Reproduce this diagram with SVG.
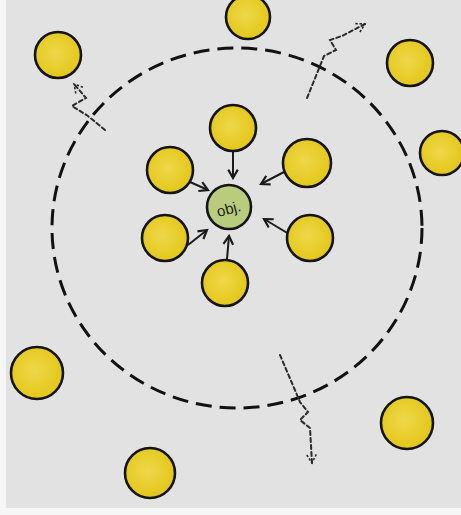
<svg xmlns="http://www.w3.org/2000/svg" width="461" height="515" viewBox="0 0 461 515">
<defs>
<radialGradient id="yel" cx="45%" cy="45%" r="60%">
<stop offset="0" stop-color="#eed84a"/>
<stop offset="1" stop-color="#e3c515"/>
</radialGradient>
<marker id="ah" viewBox="0 0 10 10" refX="8" refY="5" markerWidth="6" markerHeight="6" orient="auto">
<path d="M1,1 L8,5 L1,9" fill="none" stroke="#1a1a1a" stroke-width="1.8"/>
</marker>
<marker id="ahd" viewBox="0 0 10 10" refX="8" refY="5" markerWidth="6" markerHeight="6" orient="auto">
<path d="M1,1 L8,5 L1,9" fill="none" stroke="#2a2a2a" stroke-width="1.3" stroke-dasharray="2 1.5"/>
</marker>
</defs>
<style>
.b{fill:url(#yel);stroke:#141414;stroke-width:2.6}
.arr{fill:none;stroke:#1a1a1a;stroke-width:2;marker-end:url(#ah)}
.dot{fill:none;stroke:#2a2a2a;stroke-width:2;stroke-dasharray:4 3;stroke-linecap:round;marker-end:url(#ahd)}
.ring{fill:none;stroke:#111;stroke-width:3;stroke-dasharray:16 8}
</style>
<rect x="0" y="0" width="461" height="515" fill="#e2e2e3"/>
<rect x="0" y="0" width="6" height="515" fill="#f6f6f6"/>
<rect x="0" y="508" width="461" height="7" fill="#f6f6f6"/>
<g id="ring"><ellipse cx="237" cy="228" rx="185" ry="180" class="ring"/></g>
<g id="connectors">
<path class="arr" d="M233,152 L233,178"/>
<path class="arr" d="M190,182 L208,190"/>
<path class="arr" d="M284,172 L261,184"/>
<path class="arr" d="M188,245 L207,230"/>
<path class="arr" d="M289,234 L264,219"/>
<path class="arr" d="M227,259 L229,236"/>
<path class="dot" d="M105,130 L88,116 L72,106 L86,98 L74,84"/>
<path class="dot" d="M307,98 L324,56 L336,50 L330,40 L342,36 L365,24"/>
<path class="dot" d="M280,355 L300,402 L308,412 L300,420 L310,428 L312,463"/>
</g>
<g id="n-top"><circle class="b" cx="248" cy="17" r="22"/></g>
<g id="n-tl"><circle class="b" cx="58" cy="55" r="23"/></g>
<g id="n-tr"><circle class="b" cx="410" cy="63" r="23"/></g>
<g id="n-r"><circle class="b" cx="442" cy="153" r="22"/></g>
<g id="i-top"><circle class="b" cx="233" cy="128" r="23"/></g>
<g id="i-ul"><circle class="b" cx="170" cy="170" r="23"/></g>
<g id="i-ur"><circle class="b" cx="307" cy="163" r="24"/></g>
<g id="i-ll"><circle class="b" cx="165" cy="238" r="23"/></g>
<g id="i-lr"><circle class="b" cx="310" cy="238" r="23"/></g>
<g id="i-bot"><circle class="b" cx="225" cy="283" r="23"/></g>
<g id="obj"><circle cx="229" cy="207" r="22" fill="#b9cc7e" stroke="#141414" stroke-width="2.6"/>
<text x="229" y="214" font-family="Liberation Sans, sans-serif" font-size="15" fill="#1a1a1a" text-anchor="middle" transform="rotate(-15 229 210)">obj.</text></g>
<g id="n-bl"><circle class="b" cx="37" cy="373" r="26"/></g>
<g id="n-br"><circle class="b" cx="407" cy="423" r="26"/></g>
<g id="n-b"><circle class="b" cx="150" cy="473" r="25"/></g>
</svg>
